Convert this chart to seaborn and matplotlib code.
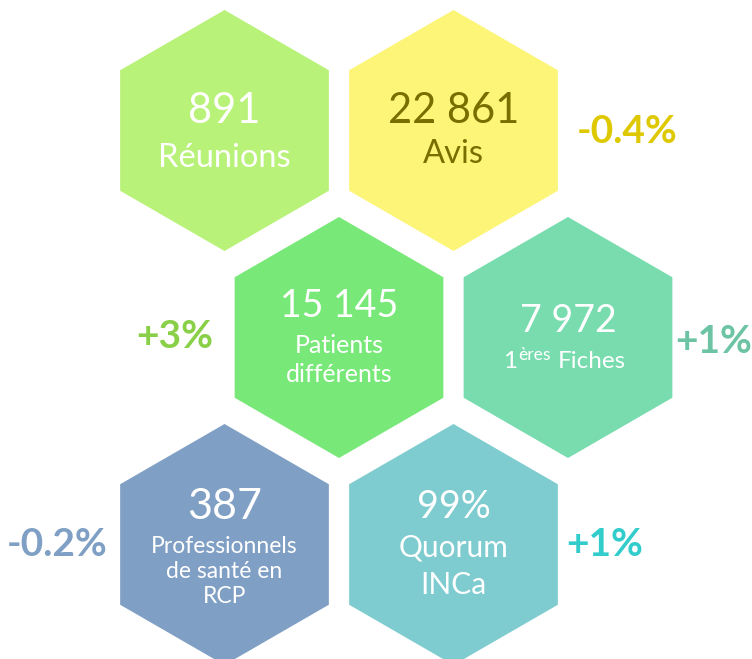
import matplotlib
matplotlib.use("Agg")
import matplotlib.pyplot as plt
from matplotlib.patches import RegularPolygon
import seaborn as sns

# chart data
values = ["891", "22 861", "15 145", "7 972", "387", "99%"]
labels = [["Réunions"], ["Avis"], ["Patients", "différents"], ["1ères Fiches"],
          ["Professionnels", "de santé en", "RCP"], ["Quorum", "INCa"]]
changes = ["", "-0.4%", "+3%", "+1%", "-0.2%", "+1%"]

hex_colors = ["#B8F278", "#FCF577", "#78E878", "#78DCAF", "#7F9FC4", "#7ECCCF"]
text_colors = ["white", "#786E00", "white", "white", "white", "white"]
change_colors = ["white", "#DEC800", "#89D048", "#6CC4A4", "#7F9FC4", "#33CCCC"]

# layout (pixel units, y downward)
col = [0, 1, 0.5, 1.5, 0, 1]
row = [0, 0, 1, 1, 2, 2]
x0, y0, dx, dy, radius = 224.5, 130.5, 229, 207, 120.5
num_size = [30, 30, 27, 27, 31, 27]
num_base = [-7.5, -7.5, -20.5, -5.5, -25.5, -27]
lab_size = [23.5, 23.5, 18, 17.5, 16.5, 21.5]
lab_base = [36.5, 32.5, 15.5, 30.5, 8.5, 12]
lab_step = [0, 0, 29, 0, 25, 37]
chg_dx = [0, 173.5, -164.5, 145.5, -167.5, 151.5]
chg_base = [0, 12.5, 10.5, 15.5, 11.5, 11]

sns.set_theme(style="white")
plt.rcParams["font.family"] = ["Lato", "DejaVu Sans"]

fig = plt.figure(figsize=(7.52, 6.59), dpi=100)
ax = fig.add_axes([0, 0, 1, 1])
ax.set_xlim(0, 752)
ax.set_ylim(659, 0)
ax.axis("off")

palette = sns.color_palette(hex_colors)

for i in range(len(values)):
    cx = x0 + col[i] * dx
    cy = y0 + row[i] * dy
    ax.add_patch(RegularPolygon((cx, cy), numVertices=6, radius=radius,
                                facecolor=palette[i], edgecolor="none"))
    ax.text(cx, cy + num_base[i], values[i], ha="center", va="baseline",
            fontsize=num_size[i], color=text_colors[i])
    for j, line in enumerate(labels[i]):
        yy = cy + lab_base[i] + j * lab_step[i]
        if line.startswith("1ères"):
            # superscript "ères" drawn as its own small raised text
            ax.text(cx - 50.5, yy, "1", ha="right", va="baseline",
                    fontsize=lab_size[i], color=text_colors[i])
            ax.text(cx - 49.5, yy - 8, "ères", ha="left", va="baseline",
                    fontsize=lab_size[i] * 0.72, color=text_colors[i])
            ax.text(cx - 10, yy, "Fiches", ha="left", va="baseline",
                    fontsize=lab_size[i], color=text_colors[i])
        else:
            ax.text(cx, yy, line, ha="center", va="baseline",
                    fontsize=lab_size[i], color=text_colors[i])
    if changes[i]:
        ax.text(cx + chg_dx[i], cy + chg_base[i], changes[i], ha="center",
                va="baseline", fontsize=28, fontweight="bold",
                color=change_colors[i])

fig.savefig("out.png", dpi=100, facecolor="white")
